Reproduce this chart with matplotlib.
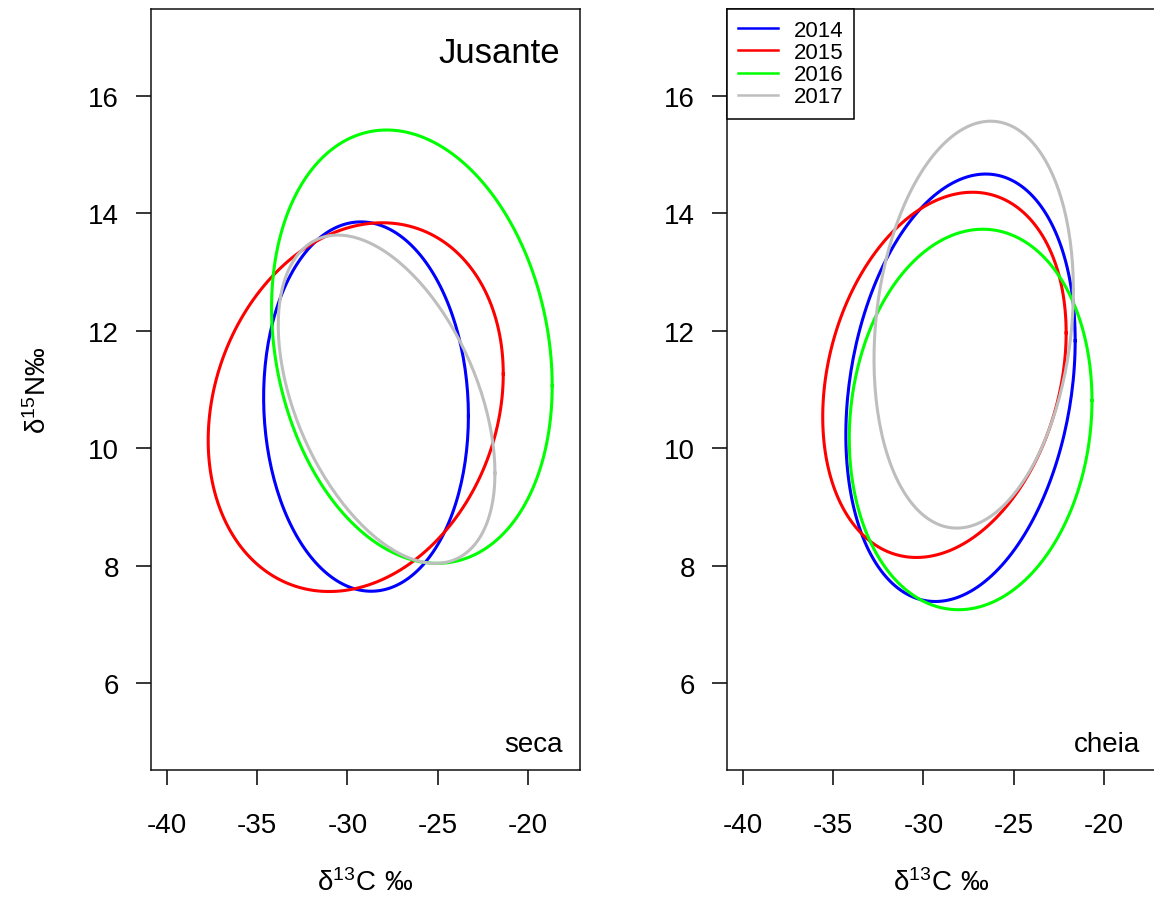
import numpy as np
import matplotlib
matplotlib.use("Agg")
import matplotlib.pyplot as plt

plt.rcParams['font.family'] = ['Liberation Sans', 'DejaVu Sans']
plt.rcParams['mathtext.fontset'] = 'custom'
plt.rcParams['mathtext.rm'] = 'Liberation Sans'

# années et couleurs
years = ['2014', '2015', '2016', '2017']
colors = ['#0000FF', '#FF0000', '#00FF00', '#BEBEBE']

# ellipses standard : centre, demi-étendue en x et y, corrélation
# période sèche (seca)
seca_cx = [-28.97, -29.54, -26.43, -27.83]
seca_cy = [10.71, 10.70, 11.73, 10.835]
seca_wx = [5.67, 8.17, 7.77, 6.00]
seca_hy = [3.145, 3.14, 3.69, 2.795]
seca_rho = [-0.05, 0.18, -0.18, -0.45]

# période de crue (cheia)
cheia_cx = [-27.95, -28.84, -27.39, -27.22]
cheia_cy = [11.03, 11.25, 10.49, 12.105]
cheia_wx = [6.35, 6.74, 6.72, 5.52]
cheia_hy = [3.64, 3.11, 3.24, 3.465]
cheia_rho = [0.22, 0.23, 0.10, 0.17]

xticks = [-40, -35, -30, -25, -20]
yticks = [6, 8, 10, 12, 14, 16]


def ellipse_xy(cx, cy, wx, hy, rho, n=200):
    t = np.linspace(0, 2 * np.pi, n)
    x = cx + wx * np.cos(t)
    y = cy + hy * (rho * np.cos(t) + np.sqrt(1 - rho ** 2) * np.sin(t))
    return x, y


def draw_panel(ax, cx, cy, wx, hy, rho):
    for i in range(len(years)):
        x, y = ellipse_xy(cx[i], cy[i], wx[i], hy[i], rho[i])
        ax.plot(x, y, color=colors[i], lw=2.2, label=years[i])
    ax.set_xlim(-40.88, -17.12)
    ax.set_ylim(4.52, 17.48)
    ax.set_xticks(xticks)
    ax.set_yticks(yticks)
    ax.set_xticklabels([str(v) for v in xticks])
    ax.tick_params(axis='both', direction='out', length=11, width=1.1,
                   labelsize=20, colors='black')
    ax.tick_params(axis='x', pad=19)
    ax.tick_params(axis='y', pad=12)
    for s in ax.spines.values():
        s.set_linewidth(1.1)
        s.set_color('#111111')
    ax.set_xlabel(r'$\mathregular{δ^{13}C\ ‰}$', fontsize=20, labelpad=22)


fig = plt.figure(figsize=(11.54, 9.04), dpi=100)
ax1 = fig.add_axes([0.1308, 0.1471, 0.3718, 0.8418])
ax2 = fig.add_axes([0.6300, 0.1471, 0.3718, 0.8418])

draw_panel(ax1, seca_cx, seca_cy, seca_wx, seca_hy, seca_rho)
draw_panel(ax2, cheia_cx, cheia_cy, cheia_wx, cheia_hy, cheia_rho)

ax1.set_ylabel(r'$\mathregular{δ^{15}N‰}$', fontsize=20, labelpad=26)
ax1.text(0.953, 0.9435, 'Jusante', transform=ax1.transAxes, ha='right',
         va='center', fontsize=25)
ax1.text(0.960, 0.034, 'seca', transform=ax1.transAxes, ha='right',
         va='center', fontsize=20)
ax2.text(0.963, 0.034, 'cheia', transform=ax2.transAxes, ha='right',
         va='center', fontsize=20)

leg = ax2.legend(loc='upper left', borderaxespad=0, fontsize=16,
                 fancybox=False, edgecolor='black', framealpha=1,
                 handlelength=1.8, handletextpad=0.7, labelspacing=0.05,
                 borderpad=0.5)
leg.get_frame().set_linewidth(1.1)
for line in leg.get_lines():
    line.set_linewidth(1.8)

fig.savefig('out.png', dpi=100)
